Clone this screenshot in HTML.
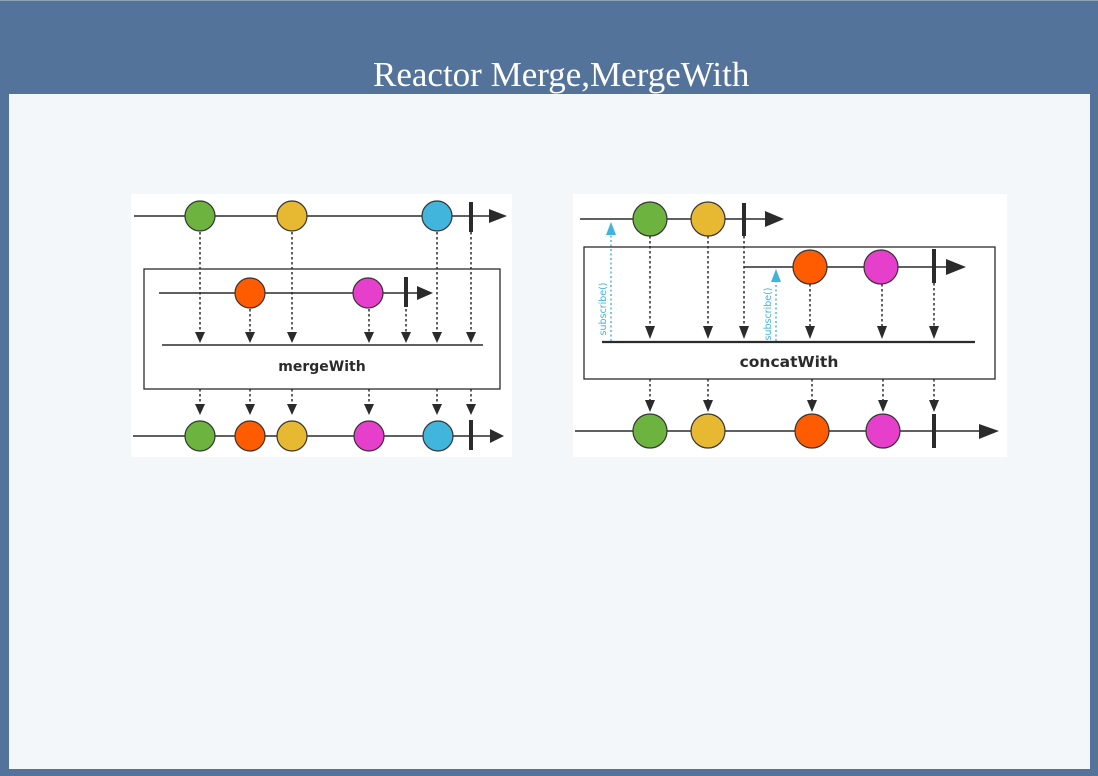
<!DOCTYPE html>
<html><head><meta charset="utf-8"><style>
html,body{margin:0;padding:0;}
body{width:1098px;height:776px;background:#53739a;position:relative;overflow:hidden;}
.top{position:absolute;left:0;top:0;width:1098px;height:1px;background:#8fa3bd;}
.panel{position:absolute;left:9px;top:94px;width:1081px;height:675px;background:#f3f7f9;}
.title{position:absolute;left:373px;top:55px;font-family:"Liberation Serif",serif;font-size:35px;color:#fff;white-space:nowrap;line-height:40px;}
svg{position:absolute;left:0;top:0;}
</style></head><body>
<div class="top"></div>
<div class="panel"></div>
<div class="title">Reactor Merge,MergeWith</div>
<svg width="1098" height="776" viewBox="0 0 1098 776">
<!-- LEFT IMAGE -->
<rect x="131" y="194" width="381" height="263" fill="#fff"/>
<g stroke="#2b2b2b" stroke-width="1.6" fill="none">
<line x1="134" y1="216" x2="492" y2="216"/>
<rect x="144" y="269" width="356" height="120" stroke-width="1.3"/>
<line x1="159" y1="293" x2="419" y2="293"/>
<line x1="162" y1="345" x2="483" y2="345" stroke-width="1.5"/>
<line x1="133" y1="436" x2="490" y2="436"/>
</g>
<g fill="#2b2b2b">
<polygon points="489,209 507,216 489,223"/>
<polygon points="417,286 433,293 417,300"/>
<polygon points="490,429 504,436 490,443"/>
<rect x="469" y="202" width="4" height="30"/>
<rect x="404" y="277" width="4" height="30"/>
<rect x="469" y="420" width="4" height="30"/>
</g>
<g stroke="#2b2b2b" stroke-width="1.5" stroke-dasharray="2.5,2.5">
<line x1="200" y1="232" x2="200" y2="333"/>
<line x1="292" y1="232" x2="292" y2="333"/>
<line x1="437" y1="232" x2="437" y2="333"/>
<line x1="471" y1="232" x2="471" y2="333"/>
<line x1="250" y1="309" x2="250" y2="333"/>
<line x1="369" y1="309" x2="369" y2="333"/>
<line x1="406" y1="309" x2="406" y2="333"/>
<line x1="200" y1="389" x2="200" y2="404"/>
<line x1="250" y1="389" x2="250" y2="404"/>
<line x1="292" y1="389" x2="292" y2="404"/>
<line x1="369" y1="389" x2="369" y2="404"/>
<line x1="437" y1="389" x2="437" y2="404"/>
<line x1="471" y1="389" x2="471" y2="404"/>
</g>
<g fill="#2b2b2b">
<polygon points="195,332 205,332 200,343"/>
<polygon points="245,332 255,332 250,343"/>
<polygon points="287,332 297,332 292,343"/>
<polygon points="364,332 374,332 369,343"/>
<polygon points="401,332 411,332 406,343"/>
<polygon points="432,332 442,332 437,343"/>
<polygon points="466,332 476,332 471,343"/>
<polygon points="195,404 205,404 200,415"/>
<polygon points="245,404 255,404 250,415"/>
<polygon points="287,404 297,404 292,415"/>
<polygon points="364,404 374,404 369,415"/>
<polygon points="432,404 442,404 437,415"/>
<polygon points="466,404 476,404 471,415"/>
</g>
<g stroke="#333" stroke-width="1.2">
<circle cx="200" cy="216" r="15" fill="#6cb33f"/>
<circle cx="292" cy="216" r="15" fill="#e7b832"/>
<circle cx="437" cy="216" r="15" fill="#41b5dc"/>
<circle cx="250" cy="293" r="15" fill="#ff5b00"/>
<circle cx="368" cy="293" r="15" fill="#e63fcb"/>
<circle cx="200" cy="436" r="15" fill="#6cb33f"/>
<circle cx="250" cy="436" r="15" fill="#ff5b00"/>
<circle cx="292" cy="436" r="15" fill="#e7b832"/>
<circle cx="369" cy="436" r="15" fill="#e63fcb"/>
<circle cx="438" cy="436" r="15" fill="#41b5dc"/>
</g>
<text x="322" y="371" text-anchor="middle" font-family="DejaVu Sans, sans-serif" font-weight="bold" font-size="14" fill="#2b2b2b">mergeWith</text>

<!-- RIGHT IMAGE -->
<rect x="573" y="194" width="434" height="263" fill="#fff"/>
<g stroke="#2b2b2b" stroke-width="1.6" fill="none">
<line x1="580" y1="219" x2="766" y2="219"/>
<rect x="584" y="247" width="411" height="132" stroke-width="1.3"/>
<line x1="744" y1="267" x2="948" y2="267"/>
<line x1="602" y1="342" x2="975" y2="342" stroke-width="2.2"/>
<line x1="575" y1="431" x2="981" y2="431"/>
</g>
<g fill="#2b2b2b">
<polygon points="765,211 784,219 765,227"/>
<polygon points="946,259 966,267 946,275"/>
<polygon points="979,424 999,431 979,439"/>
<rect x="742" y="203" width="4" height="33"/>
<rect x="932" y="249" width="4" height="34"/>
<rect x="932" y="414" width="4" height="34"/>
</g>
<g stroke="#2b2b2b" stroke-width="1.5" stroke-dasharray="2.5,2.5">
<line x1="650" y1="236" x2="650" y2="326"/>
<line x1="708" y1="236" x2="708" y2="326"/>
<line x1="744" y1="236" x2="744" y2="326"/>
<line x1="810" y1="284" x2="810" y2="326"/>
<line x1="882" y1="284" x2="882" y2="326"/>
<line x1="934" y1="283" x2="934" y2="326"/>
<line x1="650" y1="379" x2="650" y2="400"/>
<line x1="708" y1="379" x2="708" y2="400"/>
<line x1="812" y1="379" x2="812" y2="400"/>
<line x1="883" y1="379" x2="883" y2="400"/>
<line x1="934" y1="379" x2="934" y2="400"/>
</g>
<g fill="#2b2b2b">
<polygon points="645,326 655,326 650,339"/>
<polygon points="703,326 713,326 708,339"/>
<polygon points="739,326 749,326 744,339"/>
<polygon points="805,326 815,326 810,339"/>
<polygon points="877,326 887,326 882,339"/>
<polygon points="929,326 939,326 934,339"/>
<polygon points="645,400 655,400 650,412"/>
<polygon points="703,400 713,400 708,412"/>
<polygon points="807,400 817,400 812,412"/>
<polygon points="878,400 888,400 883,412"/>
<polygon points="929,400 939,400 934,412"/>
</g>
<g stroke="#3fb4dc" stroke-width="1.4" stroke-dasharray="2,2.5">
<line x1="611" y1="341" x2="611" y2="234"/>
<line x1="776" y1="341" x2="776" y2="282"/>
</g>
<g fill="#3fb4dc">
<polygon points="606,235 616,235 611,222"/>
<polygon points="771,282 781,282 776,269"/>
</g>
<text transform="translate(606,309) rotate(-90)" text-anchor="middle" font-family="DejaVu Sans, sans-serif" font-size="9.5" fill="#3fb4dc">subscribe()</text>
<text transform="translate(771,314) rotate(-90)" text-anchor="middle" font-family="DejaVu Sans, sans-serif" font-size="9.5" fill="#3fb4dc">subscribe()</text>
<g stroke="#333" stroke-width="1.2">
<circle cx="650" cy="219" r="17" fill="#6cb33f"/>
<circle cx="708" cy="219" r="17" fill="#e7b832"/>
<circle cx="810" cy="267" r="17" fill="#ff5b00"/>
<circle cx="881" cy="267" r="17" fill="#e63fcb"/>
<circle cx="650" cy="431" r="17" fill="#6cb33f"/>
<circle cx="708" cy="431" r="17" fill="#e7b832"/>
<circle cx="812" cy="431" r="17" fill="#ff5b00"/>
<circle cx="883" cy="431" r="17" fill="#e63fcb"/>
</g>
<text x="789" y="367" text-anchor="middle" font-family="DejaVu Sans, sans-serif" font-weight="bold" font-size="15.5" fill="#2b2b2b">concatWith</text>
</svg>
</body></html>
